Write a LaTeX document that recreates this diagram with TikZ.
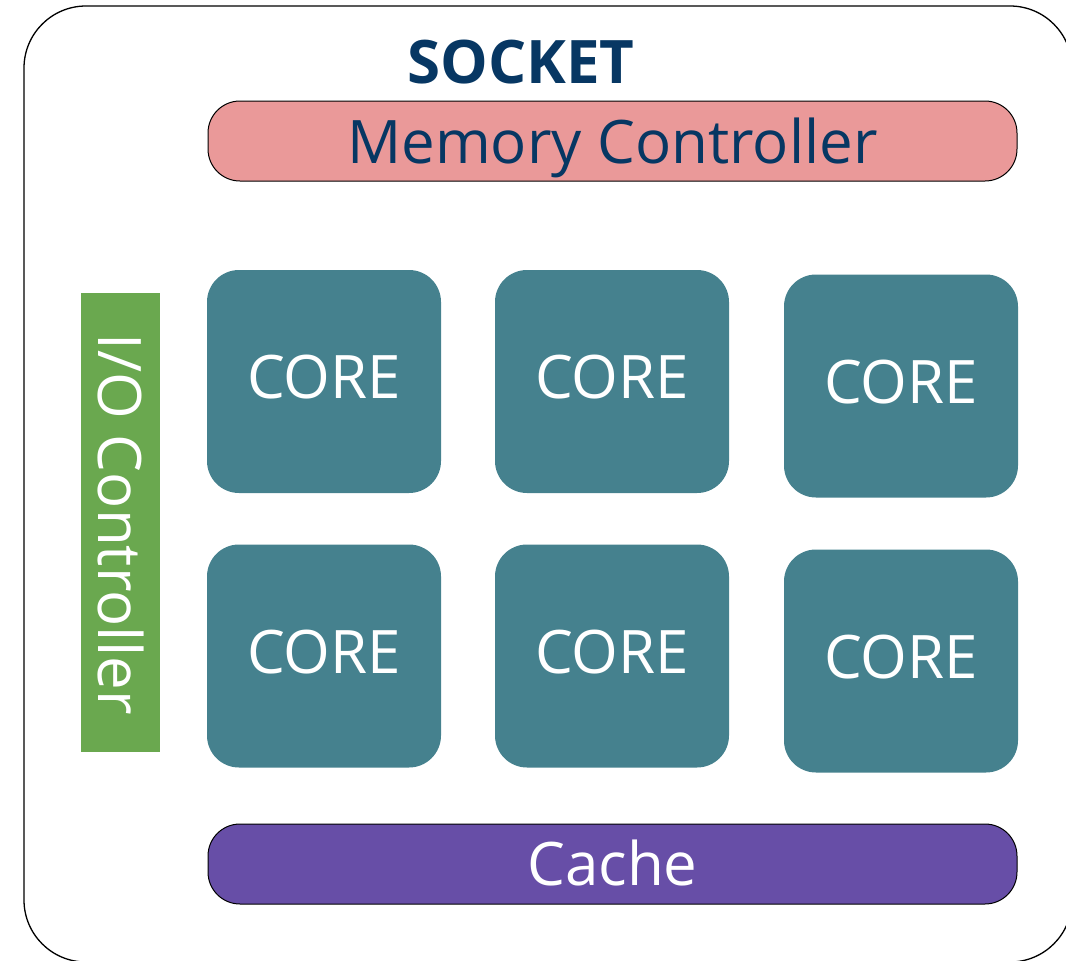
\documentclass[tikz,border=0pt]{standalone}
\usepackage{fontspec}
\setmainfont{Open Sans}
\definecolor{sockblue}{HTML}{073763}
\definecolor{memfill}{HTML}{EA9999}
\definecolor{corefill}{HTML}{45818E}
\definecolor{iofill}{HTML}{6AA84F}
\definecolor{cachefill}{HTML}{674EA7}
\tikzset{
  socketbox/.style={draw=black, line width=1.3pt, rounded corners=62pt, minimum width=1048pt, minimum height=956pt, inner sep=0pt},
  barbox/.style={draw=black, line width=1pt, rounded corners=32pt, minimum width=809pt, minimum height=80pt, inner sep=0pt},
  corebox/.style={fill=corefill, rounded corners=32pt, minimum width=234pt, minimum height=223pt, inner sep=0pt},
  iobox/.style={fill=iofill, minimum width=79pt, minimum height=459pt, inner sep=0pt},
  bigtext/.style={font=\fontsize{60}{64}\selectfont, inner sep=0pt, anchor=base},
}
\begin{document}
\begin{tikzpicture}[x=1pt, y=-1pt]
\useasboundingbox (0,0) rectangle (1066,961);
\node[socketbox] (socket) at (548,484) {};
\node[bigtext, font=\fontsize{60}{64}\selectfont\bfseries, text=sockblue] (socklabel) at (521,83) {SOCKET};
\node[barbox, fill=memfill] (mem) at (612.5,141) {};
\node[bigtext, text=sockblue] (memlabel) at (612.5,163) {Memory Controller};
\node[barbox, fill=cachefill] (cache) at (612.5,864) {};
\node[bigtext, text=white] (cachelabel) at (612.5,885) {Cache};
\node[iobox] (io) at (120.5,522.5) {};
\node[bigtext, text=white, rotate=-90] (iolabel) at (98,524.5) {I/O Controller};
\node[corebox] (c1) at (324,381.5) {};
\node[corebox] (c2) at (612,381.5) {};
\node[corebox] (c3) at (901,386) {};
\node[corebox] (c4) at (324,656) {};
\node[corebox] (c5) at (612,656) {};
\node[corebox] (c6) at (901,661) {};
\foreach \c in {c1,c2,c3,c4,c5,c6}{
  \node[bigtext, text=white] (\c label) at ([yshift=-17pt]\c.center) {CORE};
}
\end{tikzpicture}
\end{document}
